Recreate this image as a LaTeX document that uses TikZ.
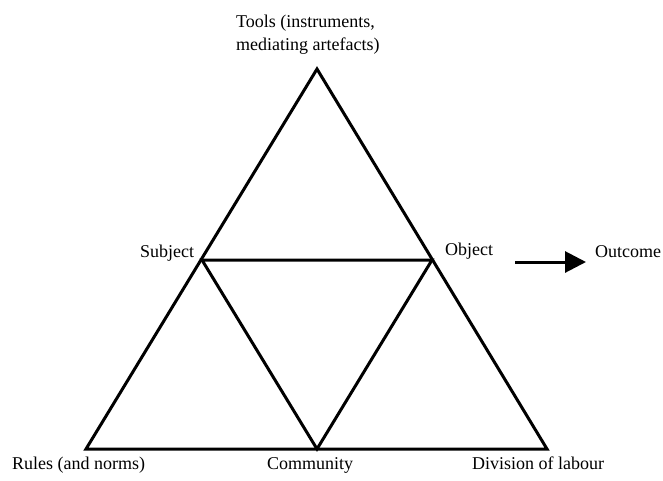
\documentclass[tikz,border=0pt]{standalone}
\usepackage{fontspec}
\setmainfont{Liberation Serif}
\usetikzlibrary{arrows.meta}
\tikzset{
  edge/.style={draw=black, line width=3pt, line join=miter},
  lbl/.style={inner sep=0pt, anchor=base west, font=\fontsize{18}{23}\selectfont},
  flow/.style={-{Triangle[length=21pt, width=21pt]}, draw=black, line width=3pt}
}
\begin{document}
\begin{tikzpicture}[x=1pt, y=-1pt]
\useasboundingbox (0,0) rectangle (663,480);

% --- vertices
\coordinate (tools) at (317,69);
\coordinate (subj) at (202,260);
\coordinate (obj) at (432,260);
\coordinate (rules) at (86,449);
\coordinate (comm) at (317,449);
\coordinate (div) at (547,449);

% --- triangles
\draw[edge] (tools) -- (rules) -- (div) -- cycle;
\draw[edge] (subj) -- (obj) -- (comm) -- cycle;

% --- labels
\node[lbl, align=left] (toolslbl) at (236,50) {Tools (instruments,\\mediating artefacts)};
\node[lbl] (subjlbl) at (140,257) {Subject};
\node[lbl] (objlbl) at (445,255) {Object};
\node[lbl] (outlbl) at (595,257) {Outcome};
\node[lbl] (ruleslbl) at (12,469) {Rules (and norms)};
\node[lbl] (commlbl) at (267,469) {Community};
\node[lbl] (divlbl) at (472,469) {Division of labour};

% --- outcome arrow
\coordinate (arrfrom) at (515,262);
\coordinate (arrto) at (586,262);
\draw[flow] (arrfrom) -- (arrto);
\end{tikzpicture}
\end{document}
